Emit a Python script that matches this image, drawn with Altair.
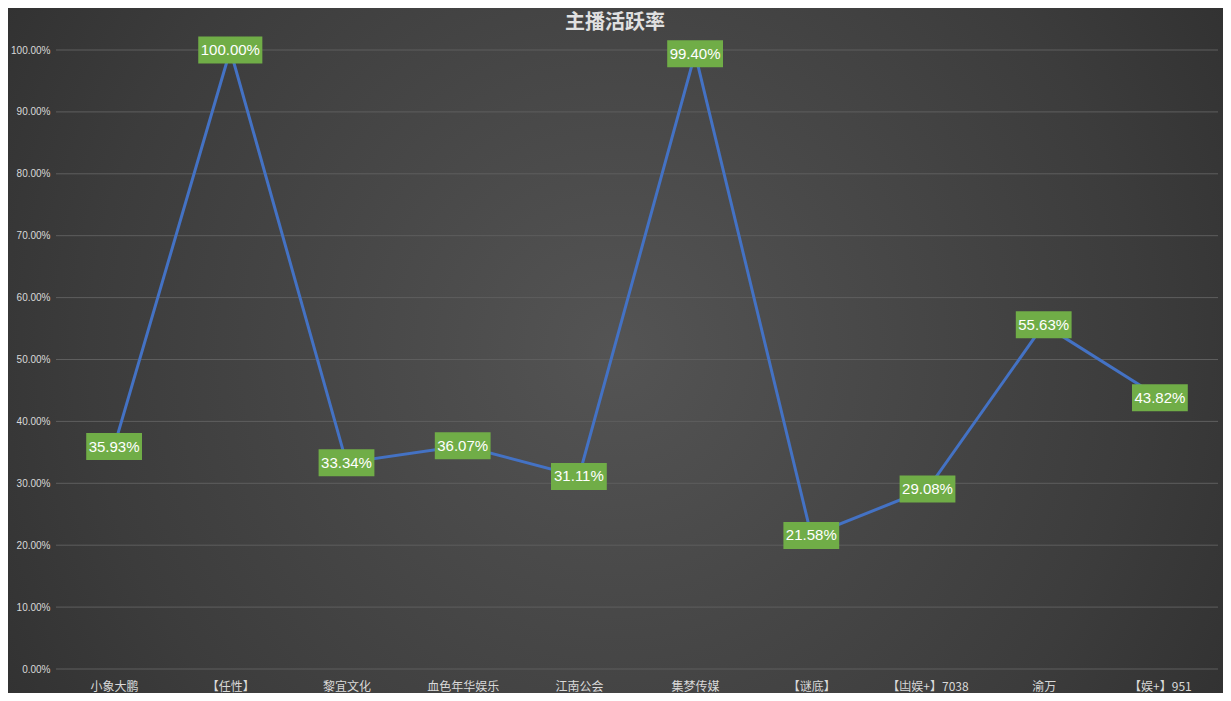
import altair as alt
import pandas as pd

title_text = "主播活跃率"
categories = ["小象大鹏", "【任性】", "黎宜文化", "血色年华娱乐", "江南公会",
              "集梦传媒", "【谜底】", "【凷娱+】7038", "渝万", "【娱+】951"]
values = [0.3593, 1.0000, 0.3334, 0.3607, 0.3111, 0.9940, 0.2158, 0.2908, 0.5563, 0.4382]
y_ticks = [0, 0.1, 0.2, 0.3, 0.4, 0.5, 0.6, 0.7, 0.8, 0.9, 1.0]

df = pd.DataFrame({"cat": categories, "v": values})
grid_df = pd.DataFrame({"t": y_ticks})

W, H = 1162, 619

xenc = alt.X("cat:N", sort=categories, title=None,
             scale=alt.Scale(type="point", padding=0.5),
             axis=alt.Axis(labelAngle=0, ticks=False, domain=False, grid=False,
                           labelPadding=12, labelFontSize=12, labelColor="#d9d9d9",
                           labelFont="Noto Sans CJK SC", zindex=1))
yscale = alt.Scale(domain=[0, 1], nice=False)
yaxis = alt.Axis(values=y_ticks, format=".2%", ticks=False, domain=False,
                 grid=False, labelPadding=6, labelFontSize=10,
                 labelColor="#d9d9d9", labelFont="Liberation Sans", zindex=1)
yenc = alt.Y("v:Q", title=None, scale=yscale, axis=yaxis)

bg = alt.Chart(pd.DataFrame({"a": [0]})).mark_rect(
    color=alt.Gradient(gradient="radial",
                       stops=[alt.GradientStop(color="#545454", offset=0),
                              alt.GradientStop(color="#3c3c3c", offset=0.6),
                              alt.GradientStop(color="#282828", offset=1)],
                       x1=0.5, y1=0.5, r1=0, x2=0.5, y2=0.5, r2=0.72)
).encode(x=alt.value(-48), x2=alt.value(W + 5), y=alt.value(-42), y2=alt.value(H + 24))

grid = alt.Chart(grid_df).mark_rule(color="#5e5e5e", strokeWidth=1).encode(
    y=alt.Y("t:Q", scale=yscale, axis=yaxis, title=None), x=alt.value(0), x2=alt.value(W))

title = alt.Chart(pd.DataFrame({"t": [title_text]})).mark_text(
    color="#e0e0e0", fontSize=20, font="Noto Sans CJK SC", fontWeight="bold",
    baseline="middle", align="center"
).encode(text="t:N", x=alt.value(W / 2 - 22), y=alt.value(-27))

base = alt.Chart(df)

line = base.mark_line(color="#4472c4", strokeWidth=3).encode(x=xenc, y=yenc)

boxes = base.mark_rect(
    color="#70ad47", height=27,
    width={"expr": "length(format(datum.v, '.2%')) * 8.3 + 6"}
).encode(x=xenc, y=yenc)

texts = base.transform_calculate(label="format(datum.v, '.2%')").mark_text(
    color="#ffffff", fontSize=15, font="Liberation Sans"
).encode(x=xenc, y=yenc, text="label:N")

chart = alt.layer(bg, grid, title, line, boxes, texts).properties(
    width=W, height=H,
    autosize=alt.AutoSizeParams(type="none"),
    padding={"left": 48, "top": 42, "right": 5, "bottom": 24},
    background="#2e2e2e",
).configure_view(stroke=None)

chart.save("out.html", embed_options={"renderer": "svg", "actions": False})
